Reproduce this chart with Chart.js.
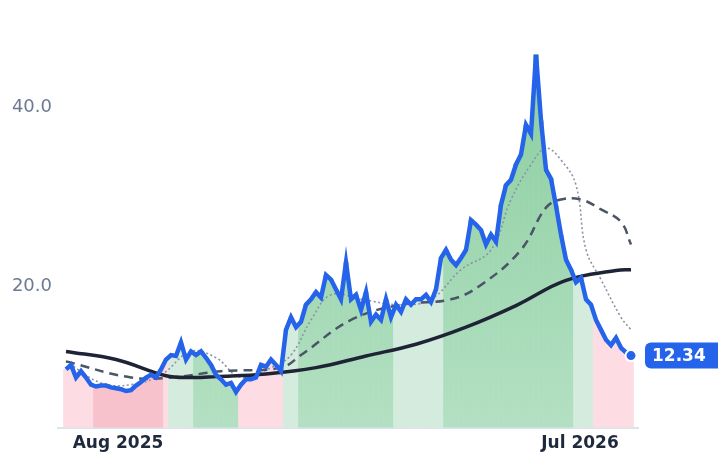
<!DOCTYPE html>
<html><head><meta charset="utf-8">
<script src="https://cdn.jsdelivr.net/npm/chart.js@4"></script>
<style>html,body{margin:0;padding:0;background:#fff}#w{width:718px;height:464px}</style>
</head><body><div id="w"><canvas id="c"></canvas></div>
<script>
const price=[10.8,11.3,9.9,10.6,9.9,9.1,8.9,9.0,9.0,8.8,8.7,8.6,8.4,8.5,9.0,9.4,9.9,10.2,9.9,10.8,11.9,12.4,12.3,13.8,11.9,12.8,12.4,12.8,12.1,11.3,10.2,9.7,9.1,9.3,8.3,9.1,9.7,9.7,9.9,11.3,11.1,11.9,11.3,10.6,15.2,16.6,15.5,16.1,18.0,18.6,19.4,18.8,21.3,20.8,19.7,18.6,22.7,18.6,19.1,17.4,19.4,16.1,16.9,16.3,18.6,16.6,18.0,17.2,18.6,18.0,18.6,18.6,19.1,18.3,19.7,23.2,24.1,23.0,22.4,23.2,24.1,27.4,26.9,26.3,24.7,25.8,25.0,29.1,31.3,31.9,33.6,34.7,38.0,37.0,45.8,38.5,33.0,32.0,29.0,25.8,23.0,21.9,20.5,21.0,18.6,18.0,16.3,15.2,14.1,13.5,14.3,13.2,12.7,12.34];
const longX=[0,10,20,25,30,40,50,60,70,80,90,100,110,113];
const longMA=[12.8,11.9,10.1,9.9,10.0,10.3,11.0,12.3,13.6,15.5,17.9,20.7,21.8,21.9];
const medX=[0,13,21,31,43,47,57,67,77,83,91,96,99,103,107,111,113];
const medMA=[11.7,9.9,9.9,10.6,11.0,12.4,16.3,18.0,18.6,20.2,24.1,28.8,29.7,29.7,28.6,27.2,24.7];
const shortX=[0,7,13,19,25,30,35,41,45,49,53,59,67,73,79,85,89,93,96,99,102,104,107,111,113];
const shortMA=[11.7,9.3,9.1,10.2,12.8,12.1,9.9,11.0,12.4,16.3,19.1,18.6,18.0,18.6,21.9,24.1,29.7,33.6,35.4,34.1,31.3,24.1,20.8,16.6,15.2];
const regimeEnds=[5,19,20,25,34,43,46,65,75,101,105,113];
const regimes=['lp','sp','lp','lg','g','lp','lg','g','lg','g','lg','lp'];
const tickPos=[10.4,102.8];
const tickLabels=['Aug 2025','Jul 2026'];
const yTicks=[20,40];

const regimeOf=i=>{for(let k=0;k<regimeEnds.length;k++) if(i<=regimeEnds[k]) return regimes[k]; return 'lp';};
const barColor=(ctx)=>{
  const r=regimeOf(ctx.dataIndex);
  const ca=ctx.chart.chartArea;
  if(r==='g'){
    if(!ca) return '#9fd6b0';
    const g=ctx.chart.ctx.createLinearGradient(0,ca.top,0,ca.bottom);
    g.addColorStop(0,'#86cc9c');g.addColorStop(1,'#b3e0c2');return g;
  }
  return {lp:'#fddde3',sp:'#f8c2cc',lg:'#d4ecdd'}[r];
};
const pts=(xs,ys)=>ys.map((v,i)=>({x:xs[i],y:v}));
const priceIdx=price.map((_,i)=>i);

const badge={id:'badge',afterDatasetsDraw(ch){
  const m=ch.getDatasetMeta(1).data; const p=m[m.length-1]; const c=ch.ctx;
  c.save();
  c.beginPath();c.arc(p.x,p.y,5.5,0,Math.PI*2);c.fillStyle='#2563eb';c.fill();c.lineWidth=2;c.strokeStyle='#fff';c.stroke();
  const x=645,y=p.y-13,w=73,h=26;
  c.beginPath();c.roundRect(x,y,w+10,h,6);c.fillStyle='#2563eb';c.fill();
  c.fillStyle='#fff';c.font='bold 17px "DejaVu Sans"';c.textBaseline='middle';c.fillText(price[price.length-1].toFixed(2),x+7,p.y+1);
  c.restore();
}};

new Chart(document.getElementById('c'),{
  data:{datasets:[
    {type:'bar',data:pts(priceIdx,price),backgroundColor:barColor,barPercentage:1,categoryPercentage:1,order:10,borderWidth:0,grouped:false},
    {type:'line',data:pts(priceIdx,price),borderColor:'#2563eb',borderWidth:4.5,pointRadius:0,tension:0,order:1},
    {type:'line',data:pts(longX,longMA),borderColor:'#1e2436',borderWidth:3.5,pointRadius:0,tension:0.4,order:2},
    {type:'line',data:pts(medX,medMA),borderColor:'#4b5566',borderWidth:2.5,borderDash:[9,6],pointRadius:0,tension:0.4,order:3},
    {type:'line',data:pts(shortX,shortMA),borderColor:'#8a93a5',borderWidth:1.6,borderDash:[2,2.5],pointRadius:0,tension:0.4,order:4}
  ]},
  plugins:[badge],
  options:{responsive:true,maintainAspectRatio:false,animation:false,
    layout:{padding:{top:17,right:80,left:8,bottom:4}},
    plugins:{legend:{display:false},tooltip:{enabled:false}},
    scales:{
      x:{type:'linear',min:-1.6,max:114.4,offset:false,grid:{display:false,drawTicks:false},
        border:{color:'#dde3ea',width:2},
        afterBuildTicks:a=>{a.ticks=tickPos.map(v=>({value:v}));},
        ticks:{autoSkip:false,maxRotation:0,padding:6,color:'#1e293b',font:{family:'DejaVu Sans',size:17,weight:'bold'},callback:(v,i)=>tickLabels[i]}},
      y:{min:4.33,max:50,grid:{display:false,drawTicks:false},border:{display:false},
        afterBuildTicks:a=>{a.ticks=yTicks.map(v=>({value:v}));},
        afterFit:a=>{a.width=50;},
        ticks:{padding:6,color:'#6b7a90',font:{family:'DejaVu Sans',size:18},callback:v=>v.toFixed(1)}}
    }}
});
</script></body></html>
